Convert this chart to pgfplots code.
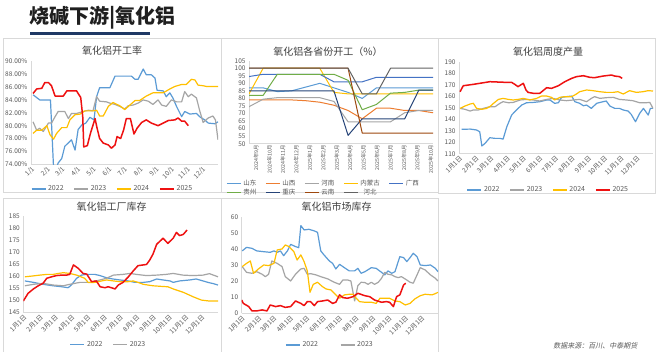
\documentclass[border=0pt]{standalone}
\usepackage{fontspec}
\setmainfont{Noto Sans CJK SC}
\newfontfamily\cjkit[FakeSlant=0.2]{Noto Sans CJK SC}
\usepackage{pgfplots}
\pgfplotsset{compat=1.18}
\definecolor{c22}{HTML}{5B9BD5}
\definecolor{c23}{HTML}{A5A5A5}
\definecolor{c24}{HTML}{FFC000}
\definecolor{c25}{HTML}{EE1111}
\definecolor{cSD}{HTML}{5B9BD5}
\definecolor{cSX}{HTML}{ED7D31}
\definecolor{cHN}{HTML}{A5A5A5}
\definecolor{cNMG}{HTML}{FFC000}
\definecolor{cGX}{HTML}{4472C4}
\definecolor{cGZ}{HTML}{70AD47}
\definecolor{cCQ}{HTML}{264478}
\definecolor{cYN}{HTML}{9E480E}
\definecolor{cHB}{HTML}{636363}
\definecolor{axgray}{HTML}{D9D9D9}
\definecolor{tickgray}{HTML}{595959}
\definecolor{titlegray}{HTML}{404040}
\definecolor{navy}{HTML}{1F3864}
\pgfplotsset{
  panel/.style={scale only axis, axis lines*=left,
    axis line style={-, draw=axgray, line width=0.6pt},
    tick style={draw=none}, major tick length=0pt,
    /pgf/number format/assume math mode=true,
    tick label style={font=\fontsize{6.5}{7}\selectfont, text=tickgray},
    legend style={draw=none, fill=none, font=\fontsize{7}{8}\selectfont, text=tickgray,
      /tikz/every even column/.append style={column sep=8pt}},
    legend image code/.code={\draw[#1] (0pt,0pt) -- (14pt,0pt);},
    every axis plot/.append style={line width=1.2pt, mark=none, line join=round},
  },
  datex/.style={xmin=0, xmax=365,
    xtick={0,31,59,90,120,151,181,212,243,273,304,334},
    xticklabels={1月1日,2月1日,3月1日,4月1日,5月1日,6月1日,7月1日,8月1日,9月1日,10月1日,11月1日,12月1日},
    xticklabel style={rotate=45, anchor=north east, inner sep=1pt}},
}
\begin{document}
\begin{tikzpicture}
\useasboundingbox (0pt,0pt) rectangle (660pt,352pt);
\fill[white] (0pt,0pt) rectangle (660pt,352pt);
\clip (0pt,0pt) rectangle (660pt,352pt);
% panel borders
\draw[axgray, line width=0.6pt] (3pt,314pt) rectangle (221pt,160pt);
\draw[axgray, line width=0.6pt] (221pt,314pt) rectangle (438pt,160pt);
\draw[axgray, line width=0.6pt] (438pt,314pt) rectangle (655pt,159pt);
\draw[axgray, line width=0.6pt] (3pt,154pt) rectangle (221pt,-10pt);
\draw[axgray, line width=0.6pt] (221pt,154pt) rectangle (438pt,-10pt);
% main title
\node[anchor=west, inner sep=0pt, text=black!88] at (29pt,334pt) {\fontsize{20}{22}\selectfont\bfseries 烧碱下游|氧化铝};
\fill[navy] (30pt,317pt) rectangle (150pt,320.3pt);
% panel titles
\node[text=titlegray] at (112pt,301.3pt) {\fontsize{10}{11}\selectfont 氧化铝开工率};
\node[text=titlegray] at (328pt,300.3pt) {\fontsize{10}{11}\selectfont 氧化铝各省份开工（\%）};
\node[text=titlegray] at (548pt,300.3pt) {\fontsize{10}{11}\selectfont 氧化铝周度产量};
\node[text=titlegray] at (111.5pt,145pt) {\fontsize{10}{11}\selectfont 氧化铝工厂库存};
\node[text=titlegray] at (336.5pt,145pt) {\fontsize{10}{11}\selectfont 氧化铝市场库存};
\node[anchor=east, text=tickgray] at (641pt,6.5pt) {\fontsize{7}{8}\selectfont\cjkit 数据来源：百川、中泰期货};

% ---------- Panel 1: 开工率 ----------
\begin{axis}[panel, at={(31pt,187.7pt)}, anchor=south west, width=187pt, height=103pt,
  xmin=0, xmax=365, ymin=74, ymax=90,
  xtick={0,31,59,90,120,151,181,212,243,273,304,334},
  xticklabels={1/1,2/1,3/1,4/1,5/1,6/1,7/1,8/1,9/1,10/1,11/1,12/1},
  xticklabel style={rotate=45, anchor=north east, inner sep=1pt},
  ytick={74,76,78,80,82,84,86,88,90},
  yticklabels={74.00\%,76.00\%,78.00\%,80.00\%,82.00\%,84.00\%,86.00\%,88.00\%,90.00\%},
  legend style={at={(0.436,-0.24)}, anchor=center, legend columns=4},
  legend entries={2022,2023,2024,2025}]
\addplot[c22] coordinates {(4,84.8)(17,84.0)(38,84.0)(44,73.5)(50,73.5)(53,74.2)(60,74.9)(66,76.8)(79,77.8)(86,76.2)(92,79.4)(99,80.1)(107,80.4)(115,81.3)(123,80.9)(128,84.5)(134,85.9)(154,85.9)(164,87.7)(196,87.7)(203,87.2)(209,87.2)(219,88.8)(225,87.9)(235,87.9)(242,87.4)(246,85.5)(258,85.4)(264,84.5)(271,85.1)(277,84.3)(284,83.0)(294,81.4)(300,82.2)(310,81.8)(323,81.9)(329,81.4)(339,80.9)(346,80.4)(359,80.3)(365,80.6)};
\addplot[c23] coordinates {(4,80.6)(11,79.3)(17,79.6)(24,79.1)(34,80.4)(40,80.4)(47,81.4)(53,82.2)(66,82.2)(73,81.1)(79,81.9)(89,81.9)(102,82.2)(112,82.4)(121,82.3)(128,84.5)(134,83.8)(147,83.7)(154,83.5)(164,83.3)(173,83.0)(183,82.6)(190,83.1)(199,83.2)(209,83.5)(219,84.0)(229,83.8)(238,83.3)(248,84.0)(255,83.2)(264,83.0)(274,84.0)(284,83.7)(294,83.7)(300,85.3)(307,84.5)(313,84.9)(323,84.3)(329,82.4)(336,80.5)(346,81.2)(355,81.5)(360,80.9)(365,77.8)};
\addplot[c24] coordinates {(4,78.8)(11,79.3)(21,79.3)(31,80.0)(37,78.6)(44,77.9)(50,78.8)(60,79.7)(70,79.7)(76,80.9)(86,81.7)(96,81.8)(105,82.3)(122,82.3)(128,82.4)(134,81.5)(141,81.5)(151,83.0)(160,83.6)(173,83.1)(183,82.5)(193,83.2)(203,83.9)(212,83.9)(225,84.6)(238,85.1)(258,85.1)(271,85.7)(281,86.1)(294,86.4)(303,86.4)(313,87.2)(320,87.1)(326,86.3)(336,86.2)(342,86.1)(365,86.1)};
\addplot[c25, line width=1.5pt] coordinates {(4,85.0)(11,85.7)(21,85.8)(27,86.7)(34,86.7)(40,86.2)(47,84.6)(63,84.6)(70,85.4)(89,85.4)(92,85.0)(97,84.4)(101,81.4)(103,76.7)(110,76.9)(116,78.8)(125,81.1)(129,79.6)(134,78.0)(141,77.3)(151,77.0)(157,76.5)(164,77.0)(168,78.3)(175,78.0)(181,79.4)(186,81.1)(194,81.1)(201,78.7)(207,79.6)(216,80.5)(225,80.9)(235,80.4)(248,80.0)(258,80.4)(268,80.8)(281,80.9)(287,81.2)(294,80.7)(300,80.7)(307,80.0)};
\end{axis}

% ---------- Panel 2: 各省份开工 ----------
\begin{axis}[panel, at={(249pt,208.3pt)}, anchor=south west, width=184pt, height=83pt,
  xmin=0, xmax=13, ymin=50, ymax=105,
  ytick={50,55,60,65,70,75,80,85,90,95,100,105},
  xtick={0.5,1.45,2.4,3.35,4.3,5.25,6.2,7.15,8.1,9.05,10,10.95,11.9,12.85},
  xticklabels={2024年9月,2024年10月,2024年11月,2024年12月,2025年1月,2025年2月,2025年3月,2025年4月,2025年5月,2025年6月,2025年7月,2025年8月,2025年9月,2025年10月},
  xticklabel style={rotate=90, anchor=east, inner sep=1pt, font=\fontsize{5.3}{6}\selectfont},
  every axis plot/.append style={line width=1pt},
  legend style={at={(0.405,-0.53)}, anchor=center, legend columns=5, font=\fontsize{6.5}{7}\selectfont,
    /tikz/every even column/.append style={column sep=7pt}, row sep=-2pt},
  legend entries={山东,山西,河南,内蒙古,广西,贵州,重庆,云南,河北}]
\addplot[cSD] coordinates {(0,87)(1,87)(2,84.5)(3,85)(4,87.5)(5,90)(6,87)(7,84)(8,80)(9,87)(10,87)(11,87)(12,87)(13,87)};
\addplot[cSX] coordinates {(0,79)(1,79)(2,79)(3,79)(4,78.5)(5,77.5)(6,75.5)(7,72)(8,66.5)(9,73.5)(10,73.5)(11,72)(12,72)(13,70.5)};
\addplot[cHN] coordinates {(0,74.5)(1,79.5)(2,80.5)(3,80.5)(4,80.5)(5,80.5)(6,78)(7,64.5)(8,64.5)(9,64.5)(10,64.5)(11,70.5)(12,72)(13,72)};
\addplot[cNMG] coordinates {(0,83)(1,100)(2,100)(3,100)(4,100)(5,100)(6,84)(7,83)(8,83)(9,83)(10,83)(11,83)(12,83)(13,83)};
\addplot[cGX] coordinates {(0,94.5)(1,96)(2,96)(3,96)(4,96)(5,96)(6,91)(7,91)(8,91)(9,94)(10,94)(11,94)(12,94)(13,94)};
\addplot[cGZ] coordinates {(0,82)(1,82)(2,96)(3,96)(4,96)(5,96)(6,96)(7,92)(8,72.5)(9,76)(10,83.5)(11,84)(12,85.5)(13,85.5)};
\addplot[cCQ] coordinates {(0,85)(1,85)(2,85)(3,85)(4,85)(5,85)(6,85)(7,55.5)(8,66.5)(9,66.5)(10,66.5)(11,66.5)(12,85.5)(13,85.5)};
\addplot[cYN] coordinates {(0,100)(1,100)(2,100)(3,100)(4,100)(5,100)(6,100)(7,100)(8,57)(9,57)(10,57)(11,57)(12,57)(13,57)};
\addplot[cHB] coordinates {(0,100)(1,100)(2,100)(3,100)(4,100)(5,100)(6,100)(7,100)(8,83)(9,83)(10,100)(11,100)(12,100)(13,100)};
\end{axis}

% ---------- Panel 3: 周度产量 ----------
\begin{axis}[panel, datex, at={(459pt,198.3pt)}, anchor=south west, width=194pt, height=92pt,
  ymin=110, ymax=190, ytick={110,120,...,190},
  legend style={at={(0.461,-0.395)}, anchor=center, legend columns=4},
  legend entries={2022,2023,2024,2025}]
\addplot[c22] coordinates {(5,131.2)(21,131.4)(33,130.6)(39,129.1)(43,116.7)(49,119.0)(58,123.9)(68,123.3)(77,123.3)(83,122.7)(90,133.5)(99,143.6)(108,148.0)(118,152.3)(127,154.3)(140,154.6)(152,155.2)(165,156.7)(171,156.7)(180,153.8)(187,154.3)(193,159.0)(202,159.6)(212,160.1)(218,155.2)(227,153.8)(234,151.7)(240,152.3)(249,149.4)(259,153.8)(271,155.2)(277,155.8)(284,151.4)(293,149.4)(302,149.4)(309,148.0)(318,147.1)(324,144.2)(332,137.8)(340,145.1)(347,149.4)(356,143.6)(360,149.4)(365,149.4)};
\addplot[c23] coordinates {(2,149.4)(11,148.6)(21,147.1)(27,148.0)(36,148.0)(46,149.4)(58,150.9)(68,150.9)(77,153.8)(83,155.2)(93,154.3)(102,154.6)(115,156.7)(127,157.2)(140,156.7)(152,155.8)(165,157.2)(177,158.1)(190,156.7)(202,156.1)(215,156.7)(227,157.2)(240,155.2)(249,158.1)(255,159.6)(265,158.1)(277,158.7)(290,159.0)(302,157.2)(315,156.7)(327,156.1)(340,154.3)(352,154.3)(359,154.6)(365,149.4)};
\addplot[c24] coordinates {(2,149.4)(11,151.4)(21,153.2)(27,153.8)(33,149.4)(43,148.6)(52,149.4)(58,150.9)(65,153.8)(74,157.2)(83,158.1)(93,157.2)(102,156.7)(111,157.2)(121,158.1)(133,156.7)(146,158.1)(155,160.1)(165,160.1)(174,159.0)(180,156.7)(190,159.0)(199,159.6)(212,159.6)(221,161.9)(227,163.9)(240,165.4)(252,164.8)(265,163.9)(277,163.3)(290,163.3)(299,163.9)(309,161.9)(321,164.8)(334,163.3)(346,163.9)(356,164.8)(365,164.5)};
\addplot[c25, line width=1.5pt] coordinates {(2,163.9)(8,169.1)(27,170.3)(46,171.7)(58,172.6)(90,172.0)(99,172.0)(105,170.3)(111,168.3)(121,171.2)(126,165.4)(130,163.3)(140,162.5)(152,162.5)(165,167.4)(174,166.8)(187,169.1)(199,172.6)(212,175.5)(221,177.0)(234,177.8)(246,176.4)(255,176.1)(271,177.5)(287,178.4)(293,177.5)(302,177.0)(307,175.5)};
\end{axis}

% ---------- Panel 4: 工厂库存 ----------
\begin{axis}[panel, datex, at={(23.3pt,39.3pt)}, anchor=south west, width=194.7pt, height=97pt,
  ymin=145, ymax=185, ytick={145,150,...,185},
  legend style={at={(0.438,-0.33)}, anchor=center, legend columns=2},
  legend entries={2022,2023}]
\addplot[c22] coordinates {(3,158.1)(19,157.5)(37,156.7)(56,156.1)(72,155.7)(84,155.3)(90,156.4)(100,159.2)(109,160.5)(118,160.8)(134,160.8)(144,160.3)(156,159.4)(168,158.9)(181,158.5)(197,158.1)(209,157.5)(225,157.5)(237,157.8)(250,158.9)(262,158.5)(275,158.1)(281,157.5)(293,158.1)(312,158.5)(324,158.9)(337,158.1)(346,157.5)(356,157.0)(365,156.4)};
\addplot[c23] coordinates {(3,156.1)(19,156.7)(37,157.1)(56,156.4)(75,156.1)(87,156.7)(106,157.5)(125,157.5)(144,158.5)(156,159.2)(169,160.5)(187,160.8)(200,161.2)(212,160.8)(231,160.3)(250,160.5)(268,160.8)(281,161.2)(299,160.5)(318,160.3)(337,160.5)(349,161.1)(365,159.8)};
\addplot[c24] coordinates {(3,159.8)(16,160.1)(31,160.5)(44,160.8)(56,160.8)(66,161.2)(75,161.5)(87,161.2)(100,160.5)(115,159.2)(122,157.4)(134,157.5)(147,158.1)(156,158.5)(169,158.1)(181,157.8)(197,157.8)(206,158.1)(215,157.5)(225,156.7)(243,156.1)(262,155.8)(271,155.7)(281,154.8)(300,153.4)(318,151.6)(334,150.2)(349,149.8)(365,149.8)};
\addplot[c25, line width=1.5pt] coordinates {(0,149.8)(9,153.0)(19,154.8)(28,156.1)(37,157.1)(44,159.2)(53,159.8)(62,160.3)(72,160.5)(81,160.5)(87,160.8)(94,164.7)(103,163.3)(112,161.2)(119,160.9)(128,157.8)(137,158.1)(144,155.7)(153,155.3)(159,155.7)(165,155.3)(172,154.8)(178,156.4)(187,157.5)(197,159.8)(206,162.2)(215,164.4)(225,164.7)(231,164.9)(237,166.7)(243,169.1)(250,173.2)(262,175.7)(271,173.6)(281,175.7)(287,178.1)(293,176.8)(300,177.3)(307,179.1)};
\end{axis}

% ---------- Panel 5: 市场库存 ----------
\begin{axis}[panel, datex, at={(241.7pt,38.7pt)}, anchor=south west, width=196.3pt, height=96pt,
  ymin=0, ymax=60, ytick={0,10,...,60},
  legend style={at={(0.45,-0.33)}, anchor=center, legend columns=2,
    /tikz/every even column/.append style={column sep=20pt}},
  legend entries={2022,2023}]
\addplot[c22] coordinates {(1,39.0)(9,41.2)(19,40.6)(28,39.0)(41,38.5)(53,38.1)(60,39.0)(66,38.1)(72,39.0)(78,36.0)(85,39.0)(91,43.1)(100,41.7)(106,41.0)(110,54.8)(116,52.1)(125,52.5)(135,51.5)(141,50.6)(147,39.0)(153,36.5)(163,32.7)(169,31.2)(175,27.7)(182,30.6)(191,28.5)(200,26.5)(210,26.5)(216,28.1)(222,25.0)(229,26.0)(241,28.5)(250,28.1)(260,25.6)(266,24.0)(272,26.5)(279,25.0)(285,26.0)(291,32.3)(294,35.4)(301,34.8)(307,32.3)(313,34.8)(319,37.5)(326,35.4)(332,30.2)(341,29.8)(351,30.2)(360,28.1)(365,26.0)};
\addplot[c23] coordinates {(1,29.2)(9,25.6)(19,25.0)(28,26.0)(38,24.4)(44,22.9)(50,24.4)(56,32.7)(66,31.2)(75,29.2)(81,22.9)(91,20.2)(100,24.4)(110,27.7)(116,28.1)(122,24.4)(128,24.8)(138,24.0)(147,22.9)(160,21.5)(172,19.4)(182,18.1)(188,20.8)(197,20.8)(203,20.2)(210,7.7)(216,17.3)(222,19.4)(229,19.2)(235,18.1)(241,19.4)(247,18.1)(254,19.4)(260,21.9)(266,25.6)(272,24.4)(279,24.0)(285,22.9)(291,22.3)(297,22.9)(307,20.8)(313,19.4)(319,18.8)(326,24.0)(332,28.5)(341,27.1)(351,24.0)(360,21.9)(365,20.2)};
\addplot[c24] coordinates {(1,29.2)(9,31.2)(16,32.7)(22,25.0)(31,27.7)(41,30.2)(50,29.8)(60,31.2)(66,39.6)(75,40.2)(81,42.7)(88,41.7)(97,38.5)(103,33.3)(110,36.5)(116,32.3)(122,26.5)(127,13.1)(133,18.1)(141,19.4)(150,16.7)(157,15.2)(166,14.6)(175,11.5)(182,9.4)(191,11.5)(200,11.9)(207,11.9)(213,9.4)(219,7.3)(229,6.9)(241,6.9)(250,6.2)(257,9.4)(266,9.4)(275,9.4)(285,7.7)(294,7.3)(304,5.2)(313,6.2)(322,9.0)(332,11.0)(341,11.9)(354,11.5)(360,12.3)(365,13.1)};
\addplot[c25, line width=1.5pt] coordinates {(0,8.3)(3,6.2)(13,4.2)(19,1.5)(28,1.5)(38,2.1)(47,1.5)(53,5.2)(63,4.2)(72,4.8)(81,3.7)(91,4.2)(100,7.7)(110,6.2)(116,4.8)(122,7.3)(128,7.3)(135,4.8)(141,7.3)(150,7.7)(160,8.3)(169,6.2)(175,6.9)(182,11.5)(188,9.8)(197,9.4)(207,10.4)(216,12.5)(229,11.0)(238,10.4)(247,8.3)(260,6.9)(269,7.3)(275,6.9)(282,4.2)(288,10.4)(294,11.5)(301,17.7)(305,18.8)};
\end{axis}
\end{tikzpicture}
\end{document}
